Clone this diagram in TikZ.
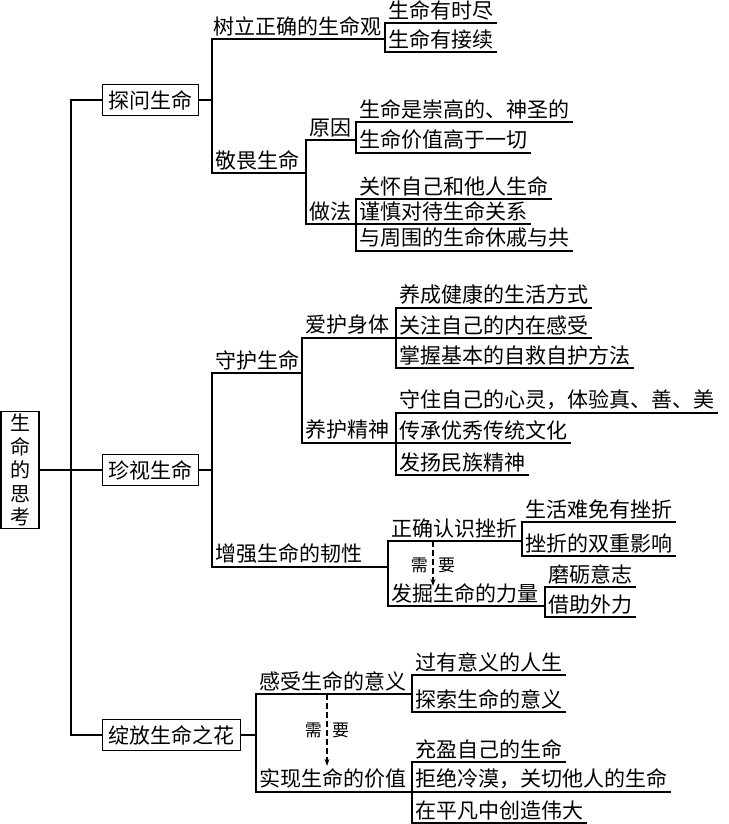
\documentclass[tikz,border=0pt]{standalone}
\usepackage{fontspec}
\newfontfamily\cjk{Noto Sans CJK SC}
\usetikzlibrary{arrows.meta}
\begin{document}
\begin{tikzpicture}[x=1pt,y=-1pt,line width=1.4pt,line cap=rect,
    font=\cjk\fontsize{21}{24}\selectfont,
    topic/.style={draw,anchor=west,inner xsep=6pt,minimum height=31pt},
    item/.style={anchor=south west,inner xsep=2.5pt,inner ysep=2.5pt},
    need/.style={font=\cjk\fontsize{17}{20}\selectfont,inner sep=4.5pt}]
    \useasboundingbox (0,0) rectangle (728,824);
    \node[draw,align=center,minimum width=38pt,minimum height=117pt,inner sep=0pt,
          font=\cjk\fontsize{20}{23.4}\selectfont] (root) at (20,470) {生\\命\\的\\思\\考};
    \node[topic] (ask) at (102,100) {探问生命};
    \node[topic] (cherish) at (102,470) {珍视生命};
    \node[topic] (bloom) at (102,735) {绽放生命之花};
    \coordinate (trunk) at (71,470);
    \draw (root) -- (cherish);
    \draw (ask.west) -| (trunk);
    \draw (bloom.west) -| (trunk);
    \node[item,inner xsep=1pt] (view) at (212,39) {树立正确的生命观};
    \node[item] (awe) at (212,173) {敬畏生命};
    \node[item] (why) at (306,140) {原因};
    \node[item] (how) at (306,224) {做法};
    \node[item] (guard) at (212,373) {守护生命};
    \node[item] (body) at (302,338) {爱护身体};
    \node[item] (mind) at (302,443) {养护精神};
    \node[item] (tough) at (212,567) {增强生命的韧性};
    \node[item] (know) at (388,541) {正确认识挫折};
    \node[item] (power) at (388,606) {发掘生命的力量};
    \node[item] (feel) at (256,694) {感受生命的意义};
    \node[item] (value) at (256,792) {实现生命的价值};
    \foreach \n/\x/\y/\t in {
        view1/385/23/生命有时尽, view2/385/52/生命有接续,
        why1/356/122/生命是崇高的、神圣的, why2/356/153/生命价值高于一切,
        how1/356/199/关怀自己和他人生命, how2/356/224/谨慎对待生命关系,
        how3/356/251/与周围的生命休戚与共,
        body1/396/308/养成健康的生活方式, body2/396/338/关注自己的内在感受,
        body3/396/368/掌握基本的自救自护方法,
        mind1/396/413/守住自己的心灵，体验真、善、美, mind2/396/443/传承优秀传统文化,
        mind3/396/475/发扬民族精神,
        know1/522/522/生活难免有挫折, know2/522/556/挫折的双重影响,
        power1/545/587/磨砺意志, power2/545/617/借助外力,
        feel1/412/675/过有意义的人生, feel2/412/712/探索生命的意义,
        value1/412/762/充盈自己的生命, value2/412/792/拒绝冷漠，关切他人的生命,
        value3/412/823/在平凡中创造伟大}
    {
        \node[item] (\n) at (\x,\y) {\t};
        \draw (\n.south west) -- (\n.south east);
    }
    \foreach \p/\a/\b in {ask/view/awe, cherish/guard/tough, bloom/feel/value}
    {
        \draw (\p.east) -- (\p.east -| \a.south west);
        \draw (\a.south west) -- (\b.south west);
    }
    \foreach \p/\a/\b in {view/view1/view2, awe/why/how, why/why1/why2, how/how1/how3,
        guard/body/mind, body/body1/body3, mind/mind1/mind3, tough/know/power,
        know/know1/know2, power/power1/power2, feel/feel1/feel2, value/value1/value3}
    {
        \draw (\p.south west) -- (\p.south west -| \a.south west);
        \draw (\a.south west) -- (\b.south west);
    }
    \coordinate (need1) at ([xshift=45pt]know.south west);
    \coordinate (need2) at ([xshift=71pt]feel.south west);
    \draw[dash pattern=on 6pt off 3pt,line width=1.2pt,line cap=butt,
          -{Stealth[length=7pt,width=5pt]},shorten >=-6pt]
        (need1) -- (need1 |- power.north)
        node[need,pos=0.62,left] (xu1) {需} node[need,pos=0.62,right] (yao1) {要};
    \draw[dash pattern=on 6pt off 3pt,line width=1.2pt,line cap=butt,
          -{Stealth[length=7pt,width=5pt]}]
        (need2) -- (need2 |- value.north)
        node[need,midway,left] (xu2) {需} node[need,midway,right] (yao2) {要};
\end{tikzpicture}
\end{document}
